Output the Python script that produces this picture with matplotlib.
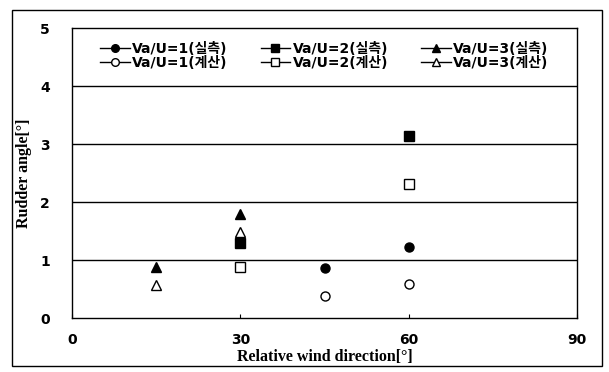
import matplotlib
matplotlib.use("Agg")
import matplotlib.pyplot as plt
from matplotlib.patches import Rectangle
from matplotlib.lines import Line2D

# Data
x_meas_1 = [45, 60]
y_meas_1 = [0.87, 1.23]
x_meas_2 = [30, 60]
y_meas_2 = [1.30, 3.13]
x_meas_3 = [15, 30]
y_meas_3 = [0.88, 1.79]
x_calc_1 = [45, 60]
y_calc_1 = [0.38, 0.58]
x_calc_2 = [30, 60]
y_calc_2 = [0.88, 2.31]
x_calc_3 = [15, 30]
y_calc_3 = [0.57, 1.49]

labels = ["Va/U=1(실측)", "Va/U=1(계산)", "Va/U=2(실측)", "Va/U=2(계산)",
          "Va/U=3(실측)", "Va/U=3(계산)"]
xticks = [0, 30, 60, 90]
yticks = [0, 1, 2, 3, 4, 5]

W, H = 609, 372
fig = plt.figure(figsize=(W / 100, H / 100), dpi=100)
ax = fig.add_axes([72 / W, 1 - 318 / H, (577 - 72) / W, (318 - 28) / H])

# outer frame
fig.patches.append(Rectangle((12 / W, 1 - 366 / H), (602 - 12) / W, (366 - 10) / H,
                             transform=fig.transFigure, fill=False, ec="black", lw=1.0))

for y in [1, 2, 3, 4]:
    ax.axhline(y, color="black", lw=1.0, zorder=1)

ms = 6.5
series = [
    (x_meas_1, y_meas_1, "o", "black"),
    (x_calc_1, y_calc_1, "o", "white"),
    (x_meas_2, y_meas_2, "s", "black"),
    (x_calc_2, y_calc_2, "s", "white"),
    (x_meas_3, y_meas_3, "^", "black"),
    (x_calc_3, y_calc_3, "^", "white"),
]
handles = []
for (xs, ys, m, fc), lab in zip(series, labels):
    ax.plot(xs, ys, linestyle="none", marker=m, ms=ms, mfc=fc, mec="black", mew=1.0, zorder=3)
    handles.append(Line2D([], [], color="black", lw=1.0, marker=m, ms=5.5, mfc=fc,
                          mec="black", mew=1.0))

ax.set_xlim(0, 90)
ax.set_ylim(0, 5)
ax.set_xticks(xticks)
ax.set_yticks(yticks)
tickfont = dict(family=["Liberation Sans Narrow", "DejaVu Sans"], weight="bold", size=10)
ax.set_xticklabels([str(t) for t in xticks], **tickfont)
ax.set_yticklabels([str(t) for t in yticks], **tickfont)
ax.tick_params(axis="x", direction="in", length=3, pad=11)
ax.tick_params(axis="y", length=0, pad=16)
for s in ax.spines.values():
    s.set_linewidth(1.0)

ax.set_xlabel("Relative wind direction[°]", family="Liberation Serif", weight="bold",
              size=11.5, labelpad=1)
ax.set_ylabel("Rudder angle[°]", family="Liberation Serif", weight="bold",
              size=11.5, labelpad=6)

leg = ax.legend(handles, labels, ncol=3, loc="upper left", bbox_to_anchor=(0.055, 0.951),
                frameon=False, handlelength=2.15, handletextpad=0.15, columnspacing=2.4,
                labelspacing=0.0, borderaxespad=0, borderpad=0,
                prop=dict(family=["DejaVu Sans", "Noto Sans CJK KR"], size=10, weight="bold"))

fig.savefig("out.png", dpi=100)
